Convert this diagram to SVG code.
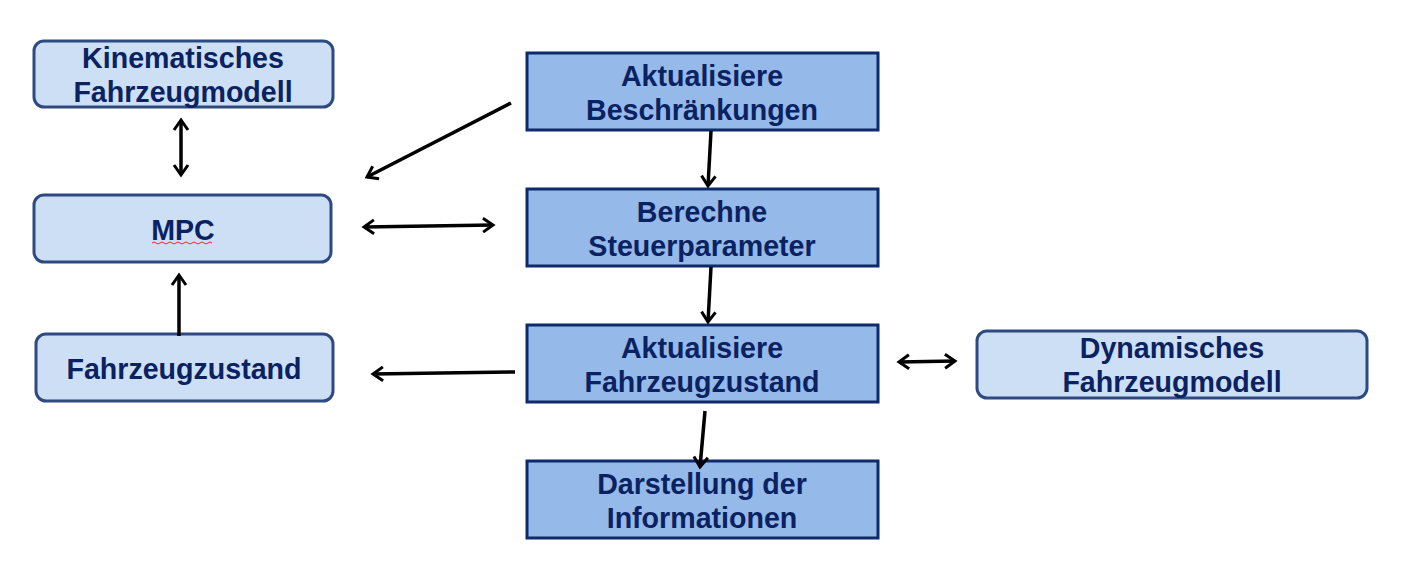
<svg xmlns="http://www.w3.org/2000/svg" width="1405" height="568" viewBox="0 0 1405 568">
<style>
.lt{fill:#cddff5;stroke:#2e4a80;stroke-width:3}
.dk{fill:#95b9e8;stroke:#0d2b6b;stroke-width:3}
text{font-family:"Liberation Sans",Arial,sans-serif;font-weight:bold;font-size:28.6px;fill:#0a2262;text-anchor:middle}
.c{fill:none;stroke:#000;stroke-width:3.5}
</style>
<defs>
<marker id="v" markerUnits="userSpaceOnUse" viewBox="-12 -9 14 18" refX="0" refY="0" markerWidth="14" markerHeight="18" orient="auto-start-reverse" overflow="visible">
<path d="M-10,-7 L0,0 L-10,7" fill="none" stroke="#000" stroke-width="3"/>
</marker>
</defs>
<rect width="1405" height="568" fill="#fff"/>
<g id="kinematisches">
<rect class="lt" x="34" y="41" width="299" height="66" rx="10"/>
<text x="183" y="68">Kinematisches</text>
<text x="183" y="102">Fahrzeugmodell</text>
</g>
<g id="mpc">
<rect class="lt" x="34" y="195" width="297" height="67" rx="10"/>
<text x="183" y="240">MPC</text>
<path d="M152,243 q2,-2 4,0 t4,0 t4,0 t4,0 t4,0 t4,0 t4,0 t4,0 t4,0 t4,0 t4,0 t4,0 t4,0 t4,0 t4,0" fill="none" stroke="#e03030" stroke-width="1"/>
</g>
<g id="fahrzeugzustand">
<rect class="lt" x="36" y="334" width="297" height="67" rx="10"/>
<text x="184" y="379">Fahrzeugzustand</text>
</g>
<g id="beschraenkungen">
<rect class="dk" x="527" y="53" width="351" height="77"/>
<text x="702" y="86">Aktualisiere</text>
<text x="702" y="120">Beschränkungen</text>
</g>
<g id="berechne">
<rect class="dk" x="527" y="189" width="351" height="77"/>
<text x="702" y="222">Berechne</text>
<text x="702" y="256">Steuerparameter</text>
</g>
<g id="aktualisiere-zustand">
<rect class="dk" x="527" y="325" width="351" height="77"/>
<text x="702" y="358">Aktualisiere</text>
<text x="702" y="392">Fahrzeugzustand</text>
</g>
<g id="darstellung">
<rect class="dk" x="527" y="461" width="351" height="77"/>
<text x="702" y="494">Darstellung der</text>
<text x="702" y="528">Informationen</text>
</g>
<g id="dynamisches">
<rect class="lt" x="977" y="331" width="390" height="67" rx="10"/>
<text x="1172" y="358">Dynamisches</text>
<text x="1172" y="392">Fahrzeugmodell</text>
</g>
<g id="connectors">
<line class="c" x1="181" y1="120" x2="181" y2="175" marker-start="url(#v)" marker-end="url(#v)"/>
<line class="c" x1="511" y1="103" x2="367" y2="177" marker-end="url(#v)"/>
<line class="c" x1="364" y1="227" x2="493" y2="225" marker-start="url(#v)" marker-end="url(#v)"/>
<line class="c" x1="179" y1="336" x2="179" y2="275" marker-end="url(#v)"/>
<line class="c" x1="515" y1="372" x2="373" y2="374" marker-end="url(#v)"/>
<line class="c" x1="711" y1="131" x2="708" y2="186" marker-end="url(#v)"/>
<line class="c" x1="711" y1="267" x2="708" y2="322" marker-end="url(#v)"/>
<line class="c" x1="705" y1="411" x2="700" y2="467" marker-end="url(#v)"/>
<line class="c" x1="899" y1="362" x2="955" y2="361" marker-start="url(#v)" marker-end="url(#v)"/>
</g>
</svg>
